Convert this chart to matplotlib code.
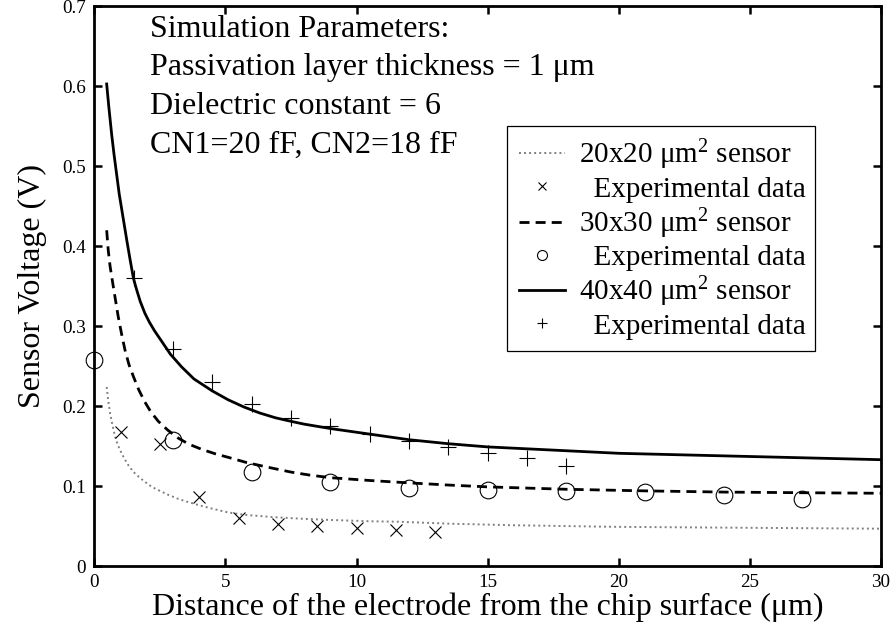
import matplotlib
matplotlib.use("Agg")
import matplotlib.pyplot as plt
from matplotlib.lines import Line2D

plt.rcParams["font.family"] = ["Liberation Serif", "DejaVu Serif"]
plt.rcParams["mathtext.fontset"] = "custom"
plt.rcParams["mathtext.rm"] = "Liberation Serif"
plt.rcParams["mathtext.default"] = "regular"

# simulated sensor curves (distance in um, voltage in V)
x_20 = [0.47, 0.53, 0.6, 0.7, 0.79, 0.9, 1.04, 1.17, 1.3, 1.48, 1.68, 1.9,
        2.19, 2.5, 2.82, 3.2, 3.58, 4, 4.47, 5.1, 5.74, 6.9, 8, 9.1, 10.5,
        11.6, 13.5, 16, 19.9, 25, 30]
v_20 = [0.224, 0.207, 0.191, 0.175, 0.162, 0.151, 0.141, 0.133, 0.126, 0.118,
        0.112, 0.106, 0.099, 0.094, 0.089, 0.084, 0.080, 0.076, 0.072, 0.067,
        0.064, 0.061, 0.059, 0.0575, 0.056, 0.0554, 0.053, 0.051, 0.049,
        0.0478, 0.0467]

x_30 = [0.47, 0.53, 0.6, 0.72, 0.82, 0.91, 1.04, 1.17, 1.32, 1.49, 1.7, 1.93,
        2.15, 2.44, 2.8, 3.2, 3.6, 4.09, 4.6, 5.1, 5.8, 6.63, 7.5, 8.2, 9,
        10.5, 12, 13.5, 15, 18, 21, 24, 27, 30]
v_30 = [0.42, 0.395, 0.375, 0.35, 0.33, 0.312, 0.29, 0.27, 0.252, 0.237, 0.22,
        0.205, 0.193, 0.181, 0.17, 0.16, 0.1525, 0.146, 0.1405, 0.136, 0.1295,
        0.1235, 0.1175, 0.1138, 0.1105, 0.107, 0.104, 0.1013, 0.099, 0.096,
        0.094, 0.0925, 0.0917, 0.091]

x_40 = [0.47, 0.55, 0.66, 0.75, 0.85, 0.95, 1.10, 1.25, 1.37, 1.49, 1.6, 1.75,
        1.93, 2.1, 2.3, 2.57, 2.9, 3.33, 3.8, 4.5, 5.1, 5.7, 6.3, 6.9, 7.5, 8,
        9, 10.5, 12, 13.5, 15, 17.5, 20, 22.5, 25, 27.5, 30]
v_40 = [0.603, 0.575, 0.54, 0.515, 0.49, 0.465, 0.435, 0.405, 0.382, 0.36,
        0.347, 0.331, 0.316, 0.305, 0.294, 0.281, 0.265, 0.249, 0.234, 0.219,
        0.208, 0.199, 0.1915, 0.1855, 0.181, 0.1775, 0.172, 0.165, 0.158,
        0.153, 0.149, 0.145, 0.141, 0.139, 0.137, 0.135, 0.133]

# measured points
xm_20 = [1, 2.5, 4, 5.5, 7, 8.5, 10, 11.5, 13]
vm_20 = [0.168, 0.153, 0.0858, 0.0596, 0.0525, 0.05, 0.0475, 0.045, 0.042]

xm_30 = [0, 3, 6, 9, 12, 15, 18, 21, 24, 27]
vm_30 = [0.258, 0.158, 0.117, 0.105, 0.097, 0.095, 0.094, 0.092, 0.089, 0.084]

xm_40 = [1.5, 3, 4.5, 6, 7.5, 9, 10.5, 12, 13.5, 15, 16.5, 18]
vm_40 = [0.36, 0.272, 0.23, 0.2025, 0.1846, 0.175, 0.165, 0.157, 0.149,
         0.1417, 0.1346, 0.125]

param_lines = [
    "Simulation Parameters:",
    "Passivation layer thickness = 1 \u03bcm",
    "Dielectric constant = 6",
    "CN1=20 fF, CN2=18 fF",
]

x_ticks = [0, 5, 10, 15, 20, 25, 30]
y_ticks = [0, 0.1, 0.2, 0.3, 0.4, 0.5, 0.6, 0.7]

fig = plt.figure(figsize=(8.96, 6.28), dpi=100)
ax = fig.add_axes([0.1053, 0.0987, 0.878, 0.891])

ax.plot(x_20, v_20, color="#808080", lw=1.4, linestyle=(0, (1, 1.6)))
ax.plot(xm_20, vm_20, "x", color="black", ms=9, mew=0.8)
ax.plot(x_30, v_30, color="black", lw=2.0, linestyle=(0, (3.6, 2.2)))
ax.plot(xm_30, vm_30, "o", mfc="none", mec="black", ms=12, mew=0.8,
        clip_on=False)
ax.plot(x_40, v_40, color="black", lw=2.0)
ax.plot(xm_40, vm_40, "+", color="black", ms=12, mew=0.8)

ax.set_xlim(0, 30)
ax.set_ylim(0, 0.7)
ax.set_xticks(x_ticks)
ax.set_yticks(y_ticks)
ax.set_xticklabels([str(t) for t in x_ticks])
ax.set_yticklabels(["0"] + [f"{t:.1f}" for t in y_ticks[1:]])
ax.tick_params(direction="in", length=6, width=1.8, top=True, right=True,
               labelsize=13.8, pad=6)
for sp in ax.spines.values():
    sp.set_linewidth(2.0)

ax.set_xlabel("Distance of the electrode from the chip surface (\u03bcm)",
              fontsize=23, labelpad=1)
ax.set_ylabel("Sensor Voltage (V)", fontsize=23, labelpad=11)

for i, line in enumerate(param_lines):
    ax.text(0.0708, 0.9455 - i * 0.0688, line, transform=ax.transAxes,
            fontsize=23, va="baseline", ha="left")

handles = [
    Line2D([], [], color="#808080", lw=1.4, linestyle=(0, (1, 1.6))),
    Line2D([], [], marker="x", ls="none", color="black", ms=9, mew=0.8),
    Line2D([], [], color="black", lw=2.0, linestyle=(0, (3.6, 2.2))),
    Line2D([], [], marker="o", ls="none", mfc="none", mec="black", ms=12,
           mew=0.8),
    Line2D([], [], color="black", lw=2.0),
    Line2D([], [], marker="+", ls="none", color="black", ms=12, mew=0.8),
]
labels = [
    "20x20 \u03bcm$^2$ sensor",
    "  Experimental data",
    "30x30 \u03bcm$^2$ sensor",
    "  Experimental data",
    "40x40 \u03bcm$^2$ sensor",
    "  Experimental data",
]
leg = ax.legend(handles, labels, loc="upper left",
                bbox_to_anchor=(0.5246, 0.382, 0.392, 0.404), mode="expand",
                fontsize=21, frameon=True, fancybox=False, edgecolor="black",
                framealpha=1, borderpad=0.4, labelspacing=0.13,
                handlelength=1.6, handletextpad=0.45, borderaxespad=0,
                markerscale=0.6)
leg.get_frame().set_linewidth(0.9)

fig.savefig("out.png", dpi=100)
